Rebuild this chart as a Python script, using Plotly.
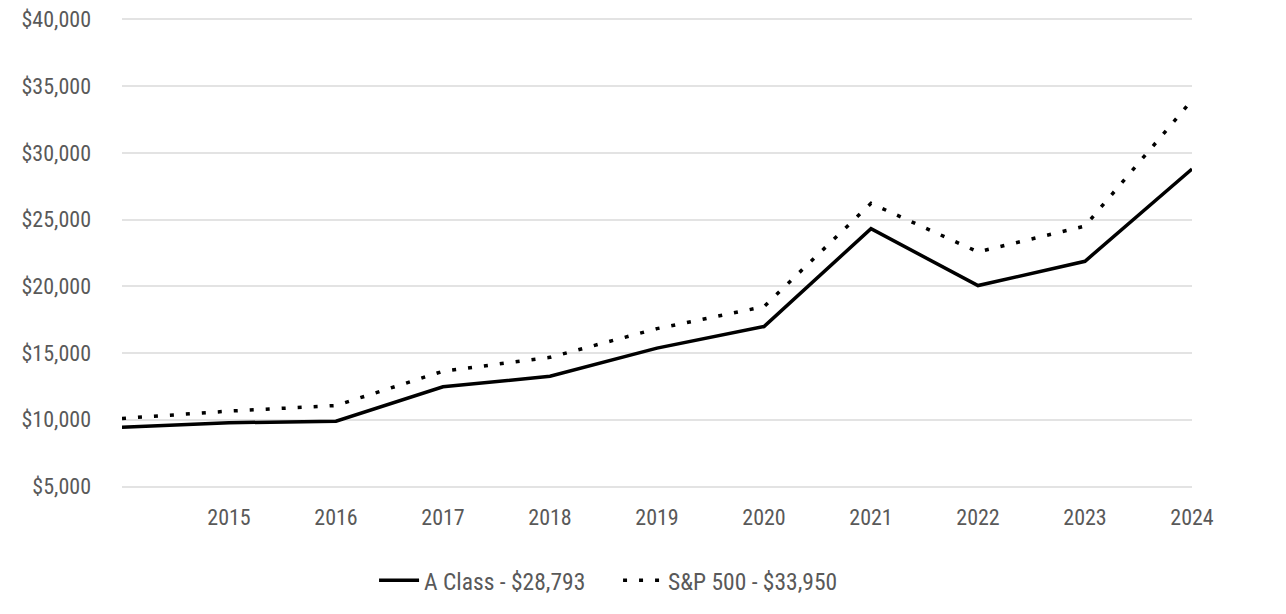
import plotly.graph_objects as go

years = [2014, 2015, 2016, 2017, 2018, 2019, 2020, 2021, 2022, 2023, 2024]
a_class = [9450, 9780, 9890, 12470, 13260, 15370, 16990, 24320, 20060, 21880, 28793]
sp500 = [10100, 10650, 11070, 13640, 14680, 16830, 18480, 26220, 22580, 24520, 33950]
tick_years = [2015, 2016, 2017, 2018, 2019, 2020, 2021, 2022, 2023, 2024]
y_ticks = [5000, 10000, 15000, 20000, 25000, 30000, 35000, 40000]

FONT = "Liberation Sans Narrow, Arial Narrow, Roboto Condensed, Liberation Sans, Arial, sans-serif"
GRAY = "#595959"

fig = go.Figure()
fig.add_trace(go.Scatter(x=years, y=a_class, mode="lines", name="A Class - $28,793",
                         line=dict(color="#000000", width=3.5)))
fig.add_trace(go.Scatter(x=years, y=sp500, mode="lines", name="S&P 500 - $33,950",
                         line=dict(color="#000000", width=3.5, dash="4px,12px")))

fig.update_layout(
    width=1270, height=598,
    margin=dict(l=114, r=86, t=10, b=118, autoexpand=False),
    paper_bgcolor="white", plot_bgcolor="white",
    font=dict(family=FONT, size=22, color=GRAY),
    showlegend=True,
    legend=dict(orientation="h", x=0.4636, xanchor="center", y=-0.197, yanchor="middle",
                font=dict(family=FONT, size=23.5, color=GRAY), itemwidth=40,
                entrywidth=189, entrywidthmode="pixels"),
    xaxis=dict(range=[2014, 2024], tickvals=tick_years, ticktext=[str(t) for t in tick_years],
               showgrid=False, zeroline=False, showline=False, ticks="",
               ticklabelstandoff=14, automargin=False, ticklabeloverflow="allow",
               tickfont=dict(family=FONT, size=22, color=GRAY)),
    yaxis=dict(range=[4888, 40112], tickvals=y_ticks,
               ticktext=["${:,}".format(v) for v in y_ticks],
               showgrid=True, gridcolor="#e3e3e3", gridwidth=2, zeroline=False, showline=False,
               ticks="", ticklabelstandoff=30, automargin=False, ticklabeloverflow="allow",
               tickfont=dict(family=FONT, size=22, color=GRAY)),
)

fig.write_html("out.html")
